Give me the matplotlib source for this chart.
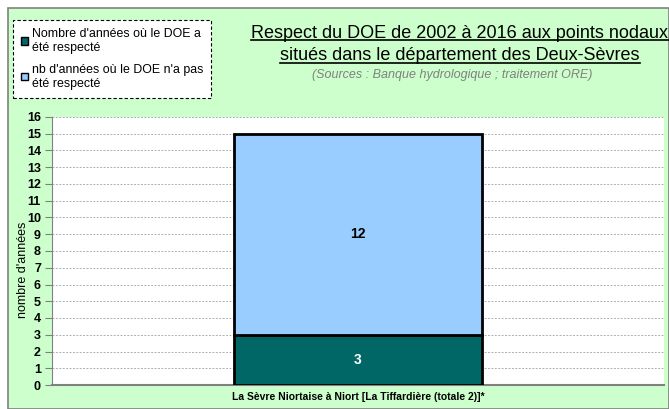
import matplotlib.pyplot as plt
from matplotlib.patches import Patch, Rectangle
from matplotlib.lines import Line2D

plt.rcParams["font.family"] = ["Liberation Sans", "DejaVu Sans"]

# data
stations = ["La Sèvre Niortaise à Niort [La Tiffardière (totale 2)]*"]
respecte = [3]
non_respecte = [12]
series_labels = [
    "Nombre d'années où le DOE a\nété respecté",
    "nb d'années où le DOE n'a pas\nété respecté",
]
title_lines = [
    "Respect du DOE de 2002 à 2016 aux points nodaux",
    "situés dans le département des Deux-Sèvres",
]
sources = "(Sources : Banque hydrologique ; traitement ORE)"

W, H = 669, 409
fig = plt.figure(figsize=(W / 100, H / 100), dpi=100)
fig.patch.set_facecolor("white")

# green chart area with grey border
bg = Rectangle((8 / W, 0), 1 - 8 / W, 1 - 8 / H, transform=fig.transFigure,
               facecolor="#CCFFCC", edgecolor="#808080", linewidth=1.2,
               zorder=-10)
fig.patches.append(bg)

ax = fig.add_axes([52 / W, 1 - 385 / H, (664 - 52) / W, (385 - 117) / H])
ax.set_facecolor("white")

x = range(len(stations))
dark, light = "#006666", "#99CCFF"
ax.bar(x, respecte, width=0.404, color=dark, edgecolor="black",
       linewidth=2, zorder=3)
ax.bar(x, non_respecte, bottom=respecte, width=0.404, color=light,
       edgecolor="black", linewidth=2, zorder=3)

for i in x:
    ax.text(i, respecte[i] / 2, str(respecte[i]), ha="center", va="center",
            color="white", fontsize=10, fontweight="bold", zorder=4)
    ax.text(i, respecte[i] + non_respecte[i] / 2, str(non_respecte[i]),
            ha="center", va="center", color="black", fontsize=10,
            fontweight="bold", zorder=4)

ax.set_xlim(-0.5, 0.5)
ax.set_ylim(0, 16)
ax.set_yticks(range(0, 17))
ax.yaxis.grid(True, linestyle=(0, (2, 1.5)), color="#B0B0B0", linewidth=0.7)
ax.set_axisbelow(True)
for lbl in ax.get_yticklabels():
    lbl.set_fontweight("bold")
ax.tick_params(axis="y", labelsize=9, length=5, direction="out",
               color="#808080", pad=3)
ax.set_xticks(list(x))
ax.set_xticklabels(stations, fontsize=7.5, fontweight="bold")
ax.tick_params(axis="x", length=0, pad=5)
for s in ["top", "right"]:
    ax.spines[s].set_visible(False)
ax.spines["left"].set_color("#808080")
ax.spines["bottom"].set_color("#808080")
ax.spines["bottom"].set_linewidth(1.5)
ax.set_ylabel("nombre d'années", fontsize=9)
ax.yaxis.set_label_coords(-0.038, 0.43)

handles = [Patch(facecolor=dark, edgecolor="black", linewidth=1),
           Patch(facecolor=light, edgecolor="black", linewidth=1)]
leg = fig.legend(handles, series_labels, loc="upper left",
                 bbox_to_anchor=(13 / W, 1 - 20 / H), fontsize=8.9,
                 handlelength=0.55, handleheight=0.55, handletextpad=0.3,
                 labelspacing=0.8, borderpad=0.65, borderaxespad=0,
                 fancybox=False, framealpha=1, edgecolor="black")
leg.get_frame().set_linestyle((0, (3, 2)))
leg.get_frame().set_linewidth(0.8)

cx = 460 / W
t1 = fig.text(cx, 1 - 33 / H, title_lines[0], ha="center", va="center",
              fontsize=13)
t2 = fig.text(cx, 1 - 56 / H, title_lines[1], ha="center", va="center",
              fontsize=13)
fig.text(cx - 8 / W, 1 - 75 / H, sources, ha="center", va="center",
         fontsize=9, style="italic", color="#808080")

# underline the title lines
fig.canvas.draw()
r = fig.canvas.get_renderer()
for t in (t1, t2):
    bb = t.get_window_extent(r).transformed(fig.transFigure.inverted())
    y = bb.y0 + 2 / H
    fig.lines.append(Line2D([bb.x0, bb.x1], [y, y], transform=fig.transFigure,
                            color="black", linewidth=1.2))

fig.savefig("out.png", dpi=100)
